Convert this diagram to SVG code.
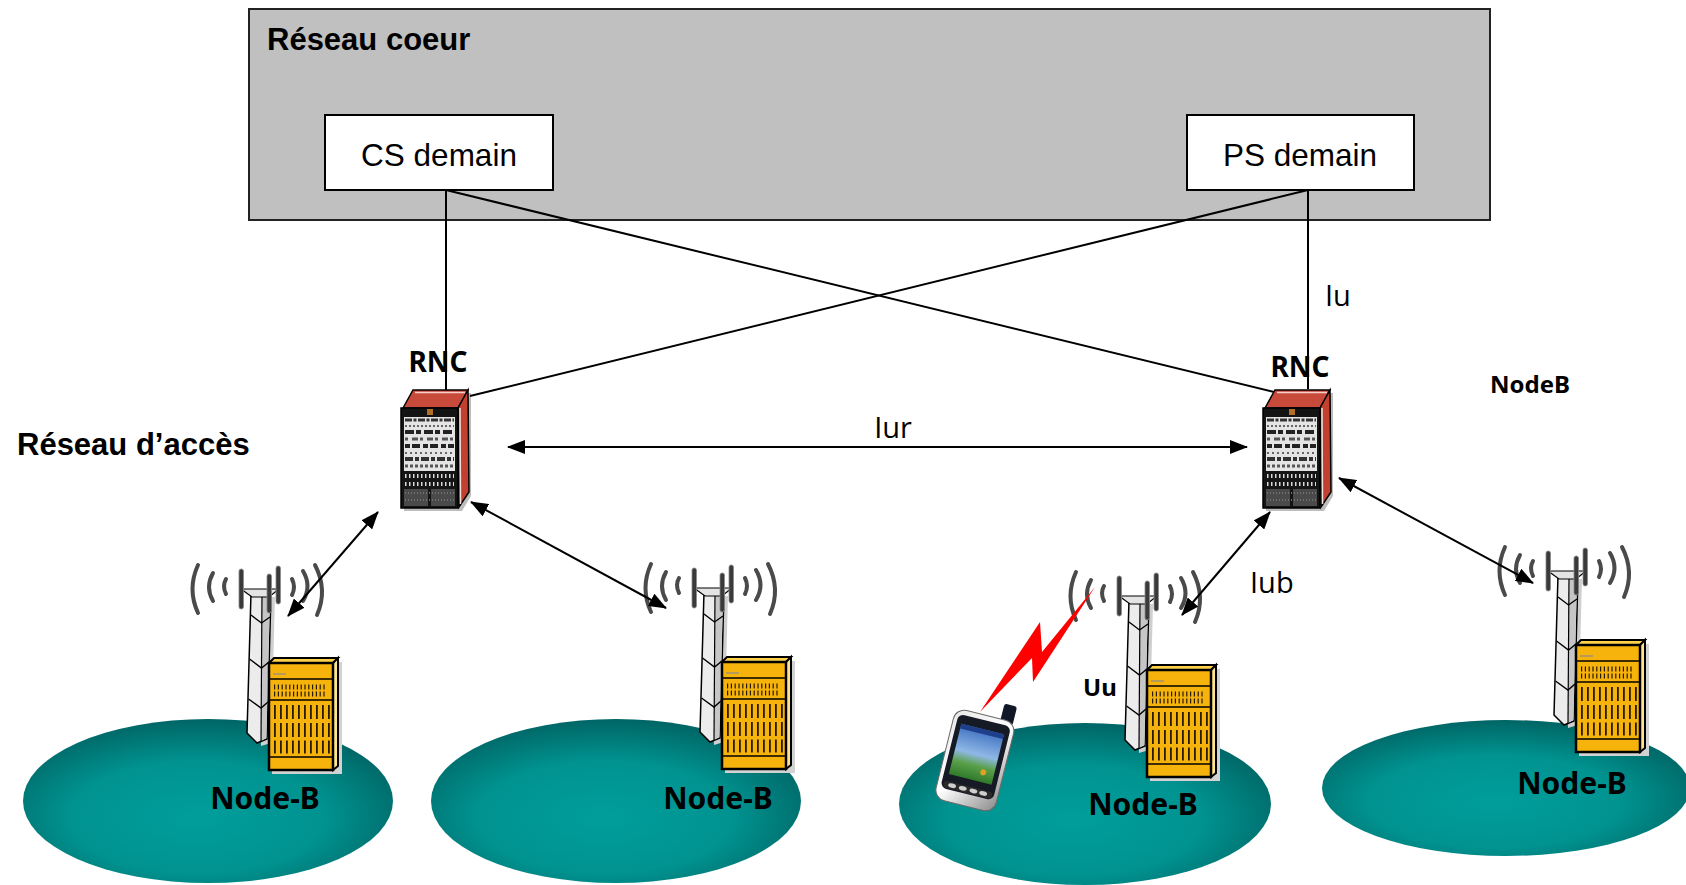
<svg xmlns="http://www.w3.org/2000/svg" width="1686" height="885" viewBox="0 0 1686 885">
<style>
.arial{font-family:"Liberation Sans",Arial,sans-serif}
.tah{font-family:"Noto Sans","DejaVu Sans",sans-serif}
.reg{font-family:"Open Sans","DejaVu Sans",sans-serif}
.b{font-weight:bold}
.ln{stroke:#000;stroke-width:2;fill:none}
.arr{stroke:#000;stroke-width:2;fill:none;marker-start:url(#ah);marker-end:url(#ah)}
.wave{fill:none;stroke:#4a4a4a;stroke-width:4;stroke-linecap:round}
.bar{fill:#3a3a3a;stroke:#8a8a8a;stroke-width:0.8}
.ol{stroke:#000;stroke-width:1.4;fill:none}
.teal{fill:url(#tealg)}
</style>
<defs>
<marker id="ah" markerUnits="userSpaceOnUse" markerWidth="18" markerHeight="14" refX="17" refY="7" orient="auto-start-reverse" viewBox="0 0 18 14"><path d="M0,0 L18,7 L0,14 z" fill="#000"/></marker>
<radialGradient id="tealg" cx="0.47" cy="0.6" r="0.62">
<stop offset="0" stop-color="#009e9b"/>
<stop offset="0.55" stop-color="#009390"/>
<stop offset="1" stop-color="#006262"/>
</radialGradient>
<linearGradient id="silver" x1="0" y1="0" x2="1" y2="1">
<stop offset="0" stop-color="#e8e8e8"/>
<stop offset="0.5" stop-color="#ffffff"/>
<stop offset="1" stop-color="#8a8a8a"/>
</linearGradient>
<linearGradient id="scr" x1="0" y1="0" x2="0" y2="1">
<stop offset="0" stop-color="#3d6fc0"/>
<stop offset="0.5" stop-color="#8fb8e6"/>
<stop offset="0.72" stop-color="#5aa04a"/>
<stop offset="1" stop-color="#2f7a2a"/>
</linearGradient>
<g id="rncIcon">
<polygon points="5,23 15,5 70,5 70,108 61,123 3,123" fill="#bdbdbd"/>
<polygon points="2,20 12,2 67,2 57,20" fill="#c84a3b" stroke="#000" stroke-width="1.5"/>
<line x1="14" y1="4.5" x2="64" y2="4.5" stroke="#f4d0c8" stroke-width="1.5"/>
<polygon points="57,20 67,2 68,104 58,119" fill="#c2402f" stroke="#000" stroke-width="1.5"/>
<line x1="59" y1="20" x2="59.5" y2="116" stroke="#f2e0dc" stroke-width="1.5"/>
<rect x="0" y="20" width="57" height="100" fill="#141414" stroke="#000" stroke-width="1.5"/>
<rect x="26" y="21" width="6" height="6" fill="#b0702a"/>
<rect x="3" y="29" width="51" height="54" fill="#e4e4e4"/>
<line x1="4" y1="32" x2="53" y2="32" stroke="#333" stroke-width="3" stroke-dasharray="7 1.5 3 1.5"/>
<line x1="4" y1="38" x2="53" y2="38" stroke="#666" stroke-width="2" stroke-dasharray="2 2"/>
<line x1="4" y1="44" x2="53" y2="44" stroke="#222" stroke-width="4" stroke-dasharray="9 2 5 3"/>
<line x1="4" y1="51" x2="53" y2="51" stroke="#555" stroke-width="3" stroke-dasharray="3 4 6 2"/>
<line x1="4" y1="58" x2="53" y2="58" stroke="#222" stroke-width="4" stroke-dasharray="5 2 8 3"/>
<line x1="4" y1="65" x2="53" y2="65" stroke="#666" stroke-width="2" stroke-dasharray="2 3"/>
<line x1="4" y1="71" x2="53" y2="71" stroke="#333" stroke-width="4" stroke-dasharray="8 2 4 2"/>
<line x1="4" y1="78" x2="53" y2="78" stroke="#555" stroke-width="3" stroke-dasharray="3 2"/>
<line x1="4" y1="88" x2="53" y2="88" stroke="#d8d8d8" stroke-width="4" stroke-dasharray="1.5 2.5"/>
<line x1="4" y1="96" x2="53" y2="96" stroke="#d8d8d8" stroke-width="4" stroke-dasharray="1.5 2.5"/>
<rect x="3" y="101" width="24" height="17" fill="#4a4a4a"/>
<rect x="30" y="101" width="24" height="17" fill="#4a4a4a"/>
<line x1="4" y1="105" x2="53" y2="105" stroke="#707070" stroke-width="2" stroke-dasharray="1 2"/>
<line x1="4" y1="112" x2="53" y2="112" stroke="#707070" stroke-width="2" stroke-dasharray="1 2"/>
</g>
<g id="nbIcon">
<path class="wave" d="M8 2 Q-3 26 8 50"/>
<path class="wave" d="M23 10 Q15 24 23 38"/>
<path class="wave" d="M36 16 Q32 23 36 31" stroke-width="3"/>
<path class="wave" d="M102 16 Q106 24 102 32" stroke-width="3"/>
<path class="wave" d="M113 8 Q122 23 113 38"/>
<path class="wave" d="M125 2 Q138 27 127 52"/>
<polygon points="65,34 85,34 81,180 71,183" fill="#cfcfcf"/>
<polygon points="61,30 81,30 77,176 67,180 57,170" fill="#ececec" stroke="#000" stroke-width="1.5"/>
<polygon points="72,31 80,31 76.5,175 71,178" fill="#c6c6c6"/>
<line x1="72" y1="30" x2="71" y2="178" stroke="#000" stroke-width="1.2"/>
<polyline class="ol" points="61,52 71.5,60 80,54"/>
<polyline class="ol" points="59.5,96 71.5,105 79,99"/>
<polyline class="ol" points="58.5,136 71,145 78,139"/>
<polygon points="51,26 89,26 79,34 62,34" fill="#e4e4e4" stroke="#000" stroke-width="1.2"/>
<rect class="bar" x="49" y="6" width="4.5" height="40" rx="2.2"/>
<rect class="bar" x="77" y="11" width="4.5" height="39" rx="2.2"/>
<rect class="bar" x="86" y="3" width="4.5" height="38" rx="2.2"/>
<rect x="82" y="99" width="70" height="112" fill="#d2d2d2"/>
<polygon points="79,100 84,95 148,95 143,100" fill="#ffd24a" stroke="#000" stroke-width="2"/>
<polygon points="143,100 148,95 148,203 143,207" fill="#ffe48e" stroke="#000" stroke-width="2"/>
<rect x="79" y="100" width="64" height="107" fill="#f6b30c" stroke="#000" stroke-width="2.5"/>
<line x1="83" y1="111" x2="96" y2="111" stroke="#8a8a8a" stroke-width="1.2"/>
<line x1="79" y1="116" x2="143" y2="116" stroke="#000" stroke-width="1.5"/>
<line x1="84" y1="124" x2="137" y2="124" stroke="#2a1a00" stroke-width="5" stroke-dasharray="1.2 2.6"/>
<line x1="84" y1="131" x2="137" y2="131" stroke="#2a1a00" stroke-width="5" stroke-dasharray="1.2 2.6"/>
<line x1="79" y1="137" x2="143" y2="137" stroke="#000" stroke-width="1.5"/>
<line x1="84" y1="149" x2="140" y2="149" stroke="#2a1a00" stroke-width="14" stroke-dasharray="1.8 4.2"/>
<line x1="84" y1="167" x2="140" y2="167" stroke="#2a1a00" stroke-width="14" stroke-dasharray="1.8 4.2"/>
<line x1="84" y1="184" x2="140" y2="184" stroke="#2a1a00" stroke-width="13" stroke-dasharray="1.8 4.2"/>
<line x1="79" y1="194" x2="143" y2="194" stroke="#000" stroke-width="1.5"/>
</g>
</defs>

<rect width="1686" height="885" fill="#fff"/>

<g id="core">
<rect x="249" y="9" width="1241" height="211" fill="#c0c0c0" stroke="#222" stroke-width="2"/>
<text class="arial b" x="267" y="50" font-size="31">Réseau coeur</text>
</g>
<g id="cs-domain">
<rect x="325" y="115" width="228" height="75" fill="#fff" stroke="#000" stroke-width="2"/>
<text class="arial" x="439" y="166" font-size="31.5" text-anchor="middle">CS demain</text>
</g>
<g id="ps-domain">
<rect x="1187" y="115" width="227" height="75" fill="#fff" stroke="#000" stroke-width="2"/>
<text class="arial" x="1300" y="166" font-size="31.5" text-anchor="middle">PS demain</text>
</g>

<text id="access-label" class="arial b" x="17" y="455" font-size="31">Réseau d’accès</text>
<text id="nodeb-label" class="tah b" x="1490" y="393" font-size="24">NodeB</text>

<g id="cells">
<ellipse class="teal" cx="208" cy="801" rx="185" ry="82"/>
<ellipse class="teal" cx="616" cy="801" rx="185" ry="82"/>
<ellipse class="teal" cx="1085" cy="804" rx="186" ry="81"/>
<ellipse class="teal" cx="1506" cy="788" rx="184" ry="68"/>
</g>

<g id="rnc1">
<use href="#rncIcon" transform="translate(401,388)"/>
<text class="tah b" x="438" y="372" font-size="28" text-anchor="middle">RNC</text>
</g>
<g id="rnc2">
<use href="#rncIcon" transform="translate(1263,388)"/>
<text class="tah b" x="1300" y="377" font-size="28" text-anchor="middle">RNC</text>
</g>

<g id="nodeb1">
<use href="#nbIcon" transform="translate(190,563)"/>
<text class="tah b" x="265" y="809" font-size="30" text-anchor="middle">Node-B</text>
</g>
<g id="nodeb2">
<use href="#nbIcon" transform="translate(643,562)"/>
<text class="tah b" x="718" y="809" font-size="30" text-anchor="middle">Node-B</text>
</g>
<g id="nodeb3">
<use href="#nbIcon" transform="translate(1068,570)"/>
<text class="tah b" x="1143" y="815" font-size="30" text-anchor="middle">Node-B</text>
</g>
<g id="nodeb4">
<use href="#nbIcon" transform="translate(1497,545)"/>
<text class="tah b" x="1572" y="794" font-size="30" text-anchor="middle">Node-B</text>
</g>

<g id="ue">
<g transform="translate(975,760) rotate(14)">
<rect x="15" y="-62" width="13" height="20" rx="3" fill="#111827"/>
<rect x="-31" y="-46" width="62" height="93" rx="11" fill="url(#silver)" stroke="#6a6a6a" stroke-width="1"/>
<rect x="-27" y="-41" width="54" height="76" rx="6" fill="#161a24"/>
<rect x="-22" y="-32" width="44" height="52" fill="url(#scr)"/>
<rect x="-22" y="-32" width="44" height="5" fill="#1f3f8a"/>
<circle cx="11" cy="10" r="3" fill="#e0a020"/>
<rect x="-25" y="27" width="50" height="7" rx="3.5" fill="#2a2a2a"/>
<ellipse cx="-16" cy="30.5" rx="4" ry="2.2" fill="#cfcfcf"/>
<ellipse cx="-5" cy="30.5" rx="4" ry="2.2" fill="#cfcfcf"/>
<ellipse cx="6" cy="30.5" rx="4" ry="2.2" fill="#cfcfcf"/>
<ellipse cx="16" cy="30.5" rx="4" ry="2.2" fill="#cfcfcf"/>
</g>
<polygon points="980,712 1040,622 1042,652 1095,587 1033,682 1032,658" fill="#ff0000"/>
</g>

<text id="uu" class="tah b" x="1083" y="696" font-size="24">Uu</text>

<g id="connectors">
<line class="ln" x1="446" y1="190" x2="446" y2="390"/>
<line class="ln" x1="446" y1="190" x2="1274" y2="392"/>
<line class="ln" x1="1308" y1="190" x2="1308" y2="389"/>
<line class="ln" x1="1308" y1="190" x2="470" y2="396"/>
<line class="arr" x1="508" y1="447" x2="1247" y2="447"/>
<line class="arr" x1="378" y1="512" x2="288" y2="616"/>
<line class="arr" x1="471" y1="502" x2="666" y2="608"/>
<line class="arr" x1="1270" y1="512" x2="1182" y2="615"/>
<line class="arr" x1="1339" y1="478" x2="1533" y2="583"/>
<text class="reg" x="1325" y="306" font-size="29">Iu</text>
<text class="reg" x="893" y="438" font-size="29" text-anchor="middle">Iur</text>
<text class="reg" x="1250" y="593" font-size="29">Iub</text>
</g>
</svg>
